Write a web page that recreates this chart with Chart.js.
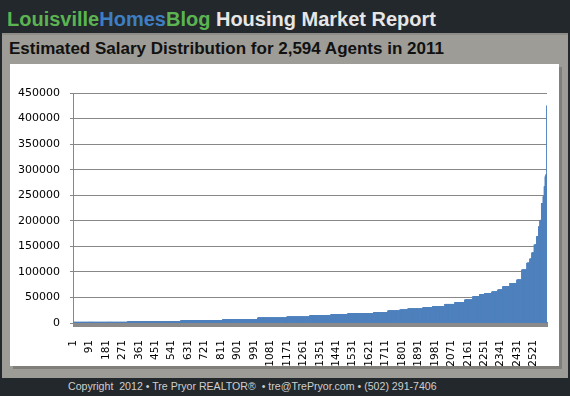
<!DOCTYPE html>
<html>
<head>
<meta charset="utf-8">
<script src="https://cdn.jsdelivr.net/npm/chart.js@4/dist/chart.umd.min.js"></script>
<style>
    html, body { margin: 0; padding: 0; }
    body { width: 570px; height: 396px; background: #23282c; position: relative; overflow: hidden; }
    #title { position: absolute; left: 7px; top: 8px; line-height: 20px; font: bold 20px "Liberation Sans", Arial, sans-serif; color: #e6e6e6; white-space: pre; }
    #title .g { color: #5bb451; }
    #title .b { color: #3e7ec2; }
    #panel { position: absolute; left: 2px; top: 33px; width: 566px; height: 345px; background: #9d9c96; border-top: 2px solid #8e8d88; box-sizing: border-box; }
    #subtitle { position: absolute; left: 9px; top: 39px; line-height: 17px; font: bold 17px "Liberation Sans", Arial, sans-serif; color: #111; white-space: pre; }
    #box { position: absolute; left: 10px; top: 64px; width: 549px; height: 302px; background: #fff; box-shadow: 3px 3px 0 #807f7a; }
    #footer { position: absolute; left: 68px; top: 380px; line-height: 14px; font: 10.6px "Liberation Sans", Arial, sans-serif; color: #cfcfcf; white-space: pre; }
</style>
</head>
<body>
<div id="title"><span class="g">Louisville</span><span class="b">Homes</span><span class="g">Blog</span> Housing Market Report</div>
<div id="panel"></div>
<div id="subtitle">Estimated Salary Distribution for 2,594 Agents in 2011</div>
<div id="box"><canvas id="chart" width="549" height="302"></canvas></div>
<div id="footer">Copyright  2012 • Tre Pryor REALTOR®  • tre@TrePryor.com • (502) 291-7406</div>
<script>
// salaries, sorted low to high, as [level, how many agents]
const salaryLevels = [1500, 3000, 4500, 7200, 9800, 11700, 14300, 16200, 18200, 20900,
    23500, 25400, 27400, 30000, 32600, 36600, 40500, 45000, 51400, 56100,
    58000, 60600, 64500, 71000, 77600, 84000, 103600, 117000, 125000, 137000,
    152600, 168800, 188000, 201000, 234000, 247000, 266600, 286000, 290000, 425000];
const agentsAtLevel = [301, 290, 230, 191, 159, 126, 115, 93, 142, 77,
    66, 43, 83, 54, 66, 55, 54, 44, 38, 28,
    38, 33, 27, 39, 38, 27, 28, 16, 11, 13,
    13, 11, 7, 9, 9, 6, 5, 4, 4, 1];
const agentCount = 2594;
const xLabelEvery = 90;
const yMax = 450000;
const yStep = 50000;

const salaries = salaryLevels.flatMap((v, i) => new Array(agentsAtLevel[i]).fill(v));
const agents = Array.from({ length: agentCount }, (_, i) => String(i + 1));

const floorPlugin = {
    id: "floor",
    beforeDatasetsDraw(chart) {
        const { ctx, chartArea } = chart;
        const y0 = chart.scales.y.getPixelForValue(0);
        ctx.save();
        ctx.fillStyle = "#8a8a8a";
        ctx.fillRect(chartArea.left, y0 - 1, chartArea.right - chartArea.left + 1, 5);
        ctx.restore();
    },
};

new Chart(document.getElementById("chart"), {
    type: "bar",
    data: {
        labels: agents,
        datasets: [{
            data: salaries,
            backgroundColor: "#4f81bd",
            borderWidth: 0,
            barThickness: 1,
        }],
    },
    options: {
        responsive: false,
        animation: false,
        events: [],
        layout: { padding: { left: 0, top: 29, right: 12, bottom: 0 } },
        plugins: { legend: { display: false }, tooltip: { enabled: false } },
        scales: {
            x: {
                grid: { display: false },
                border: { display: false },
                ticks: {
                    autoSkip: false,
                    minRotation: 90,
                    maxRotation: 90,
                    padding: 9,
                    color: "#000",
                    font: { family: "DejaVu Sans", size: 10.5 },
                    callback(value, index) {
                        return index % xLabelEvery === 0 ? this.getLabelForValue(value) : null;
                    },
                },
                afterFit(scale) { scale.height = 43; },
            },
            y: {
                min: 0,
                max: yMax,
                grid: { color: "#878787", tickLength: 3 },
                border: { color: "#878787" },
                ticks: {
                    stepSize: yStep,
                    padding: 10,
                    color: "#000",
                    font: { family: "DejaVu Sans", size: 11 },
                    callback: (v) => String(v),
                },
                afterFit(scale) { scale.width = 63; },
            },
        },
    },
    plugins: [floorPlugin],
});
</script>
</body>
</html>
